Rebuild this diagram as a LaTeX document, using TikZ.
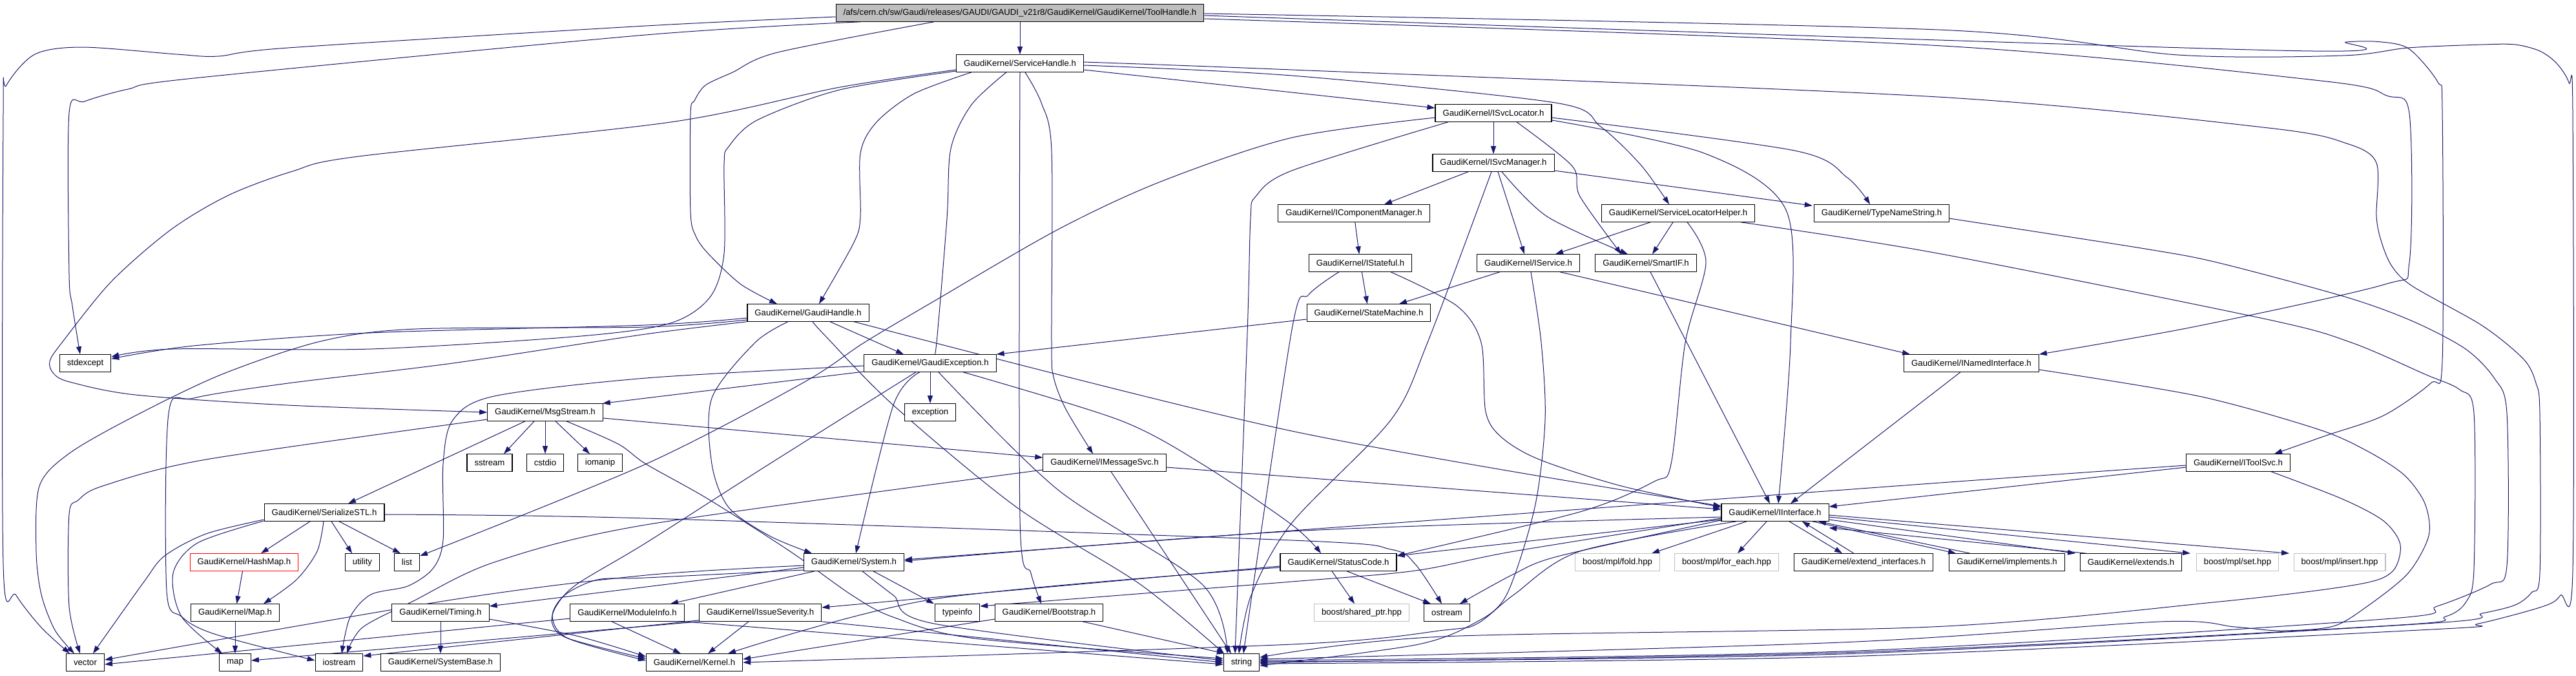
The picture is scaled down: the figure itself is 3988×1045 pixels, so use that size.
\documentclass[tikz,border=0pt]{standalone}
\usepackage{fontspec}
\newfontfamily\gkfont{Liberation Sans}
\usetikzlibrary{arrows.meta}
\usetikzlibrary{backgrounds}
\definecolor{linkblue}{RGB}{25,25,112}
\definecolor{rootgray}{RGB}{191,191,191}

\begin{document}
\begin{tikzpicture}[x=1pt,y=-1pt,
  hdr/.style={draw=black,line width=1.1pt,fill=white,minimum height=26.5pt,
    inner xsep=11.5pt,inner ysep=0pt,font=\gkfont\fontsize{13.2}{15}\selectfont},
  syshdr/.style={hdr,draw=rootgray},
  dep/.style={draw=linkblue,line width=1pt,-{Triangle[length=12pt,width=8pt]}},
  curve/.style={dep,smooth,tension=0.5}
  ]
\useasboundingbox (0,0) rectangle (3988,1045);

% rows of the include graph
\node[hdr,fill=rootgray] (toolhandle) at (1579,20) {/afs/cern.ch/sw/Gaudi/releases/GAUDI/GAUDI\_v21r8/GaudiKernel/GaudiKernel/ToolHandle.h};
\node[hdr] (svchandle) at (1579,98) {GaudiKernel/ServiceHandle.h};
\node[hdr] (svclocator) at (2312,175) {GaudiKernel/ISvcLocator.h};
\node[hdr] (svcmanager) at (2312,252) {GaudiKernel/ISvcManager.h};
\node[hdr] (compmgr) at (2096,330) {GaudiKernel/IComponentManager.h};
\node[hdr] (slhelper) at (2598,330) {GaudiKernel/ServiceLocatorHelper.h};
\node[hdr] (typename) at (2913,330) {GaudiKernel/TypeNameString.h};
\node[hdr] (stateful) at (2106,407) {GaudiKernel/IStateful.h};
\node[hdr] (iservice) at (2366,407) {GaudiKernel/IService.h};
\node[hdr] (smartif) at (2548,407) {GaudiKernel/SmartIF.h};
\node[hdr] (gaudihandle) at (1251,484) {GaudiKernel/GaudiHandle.h};
\node[hdr] (statemachine) at (2119,484) {GaudiKernel/StateMachine.h};
\node[hdr] (stdexcept) at (132,562) {stdexcept};
\node[hdr] (gaudiexc) at (1440,562) {GaudiKernel/GaudiException.h};
\node[hdr] (namedif) at (3052,562) {GaudiKernel/INamedInterface.h};
\node[hdr] (msgstream) at (844,638) {GaudiKernel/MsgStream.h};
\node[hdr] (exception) at (1440,638) {exception};
\node[hdr] (sstream) at (758,716) {sstream};
\node[hdr] (cstdio) at (844,716) {cstdio};
\node[hdr] (iomanip) at (929,716) {iomanip};
\node[hdr] (msgsvc) at (1710,716) {GaudiKernel/IMessageSvc.h};
\node[hdr] (toolsvc) at (3465,716) {GaudiKernel/IToolSvc.h};
\node[hdr] (serialize) at (502,793) {GaudiKernel/SerializeSTL.h};
\node[hdr] (iinterface) at (2748,793) {GaudiKernel/IInterface.h};
\node[hdr,draw=red] (hashmap) at (378,870) {GaudiKernel/HashMap.h};
\node[hdr] (utility) at (561,870) {utility};
\node[hdr] (list) at (630,870) {list};
\node[hdr] (system) at (1322,870) {GaudiKernel/System.h};
\node[hdr] (statuscode) at (2072,870) {GaudiKernel/StatusCode.h};
\node[syshdr] (fold) at (2504,870) {boost/mpl/fold.hpp};
\node[syshdr] (foreach) at (2673,870) {boost/mpl/for\_each.hpp};
\node[hdr] (extendif) at (2885,870) {GaudiKernel/extend\_interfaces.h};
\node[hdr] (implements) at (3107,870) {GaudiKernel/implements.h};
\node[hdr] (extends) at (3299,870) {GaudiKernel/extends.h};
\node[syshdr] (mplset) at (3464,870) {boost/mpl/set.hpp};
\node[syshdr] (mplinsert) at (3622,870) {boost/mpl/insert.hpp};
\node[hdr] (gkmap) at (364,948) {GaudiKernel/Map.h};
\node[hdr] (timing) at (682,948) {GaudiKernel/Timing.h};
\node[hdr] (moduleinfo) at (971,948) {GaudiKernel/ModuleInfo.h};
\node[hdr] (severity) at (1177,948) {GaudiKernel/IssueSeverity.h};
\node[hdr] (typeinfo) at (1482,948) {typeinfo};
\node[hdr] (bootstrap) at (1624,948) {GaudiKernel/Bootstrap.h};
\node[syshdr] (sharedptr) at (2108,948) {boost/shared\_ptr.hpp};
\node[hdr] (ostream) at (2240,948) {ostream};
\node[hdr] (vector) at (132,1025) {vector};
\node[hdr] (stlmap) at (364,1025) {map};
\node[hdr] (iostream) at (525,1025) {iostream};
\node[hdr] (systembase) at (682,1025) {GaudiKernel/SystemBase.h};
\node[hdr] (kernel) at (1075,1025) {GaudiKernel/Kernel.h};
\node[hdr] (string) at (1922,1025) {string};

\begin{scope}[on background layer]
\fill[white] (0,0) rectangle (3988,1045);
% ToolHandle.h
\draw[curve] plot coordinates {([yshift=-6pt]toolhandle.west) (1000,40) (446,74) (338,87) (274,84) (128,73) (54,84) (10,132) (5,176) (5,873) (25,921) (64,971) ([xshift=-24pt]vector.north)};
\draw[curve] plot coordinates {([xshift=-247pt]toolhandle.south) (1000,54) (300,121) (198,138) (131,157) (107,175) (107,423) (112,473) ([xshift=-8pt]stdexcept.north)};
\draw[curve] plot coordinates {([xshift=-133pt]toolhandle.south) (1204,81) (1134,112) (1092,132) (1075,156) (1069,176) (1069,328) (1077,365) (1096,392) (1147,440) ([xshift=-48pt]gaudihandle.north)};
\draw[dep] (toolhandle) -- (svchandle);
\draw[curve] plot coordinates {([yshift=-4pt]toolhandle.east) (3525,78) (3633,65) (3687,65) (3730,76) (3774,127) (3781,172) (3781,559) (3763,593) (3690,643) (3601,674) ([xshift=56pt]toolsvc.north)};
\draw[curve] plot coordinates {([yshift=-9pt]toolhandle.east) (2990,70) (3593,125) (3695,148) (3730,176) (3730,406) (3692,440) (3400,505) (namedif.north east)};
\draw[curve] plot coordinates {([yshift=-1pt]toolhandle.east) (3000,46) (3372,85) (3627,86) (3728,74) (3843,69) (3894,69) (3932,79) (3958,98) (3977,128) (3983,176) (3983,883) (3964,921) (3938,938) (3837,965) (3764,974) (2850,1016) ([yshift=-2pt]string.east)};
% ServiceHandle.h
\draw[curve] plot coordinates {([yshift=-10pt]svchandle.west) (1300,135) (1038,189) (555,242) (453,265) (354,302) (265,355) (172,436) (96,530) (77,559) (83,578) (108,591) (210,611) (446,627) (msgstream.west)};
\draw[curve] plot coordinates {([yshift=-12pt]svchandle.west) (1300,139) (1172,186) (1128,227) (1121,254) (1121,392) (1099,460) (1038,500) (900,520) (574,540) (268,540) ([yshift=-4pt]stdexcept.north east)};
\draw[curve] plot coordinates {([xshift=-75pt]svchandle.south) (1415,145) (1357,189) (1332,237) (1332,335) (1322,375) ([xshift=17pt]gaudihandle.north)};
\draw[curve] plot coordinates {([xshift=-21pt]svchandle.south) (1504,162) (1472,230) (1466,338) (1450,530) ([xshift=5pt]gaudiexc.north)};
\draw[curve] plot coordinates {(svchandle.south) (1579,802) (1596,887) ([xshift=-12pt]bootstrap.north)};
\draw[curve] plot coordinates {([xshift=8pt]svchandle.south) (1612,159) (1628,233) (1628,530) (1631,583) (1650,633) ([xshift=-18pt]msgsvc.north)};
\draw[dep] ([yshift=-10pt]svchandle.east) -- ([yshift=8pt]svclocator.west);
\draw[curve] plot coordinates {([yshift=-3pt]svchandle.east) (2000,117) (2408,159) (2478,196) (2540,255) ([xshift=-14pt]slhelper.north)};
\draw[curve] plot coordinates {([yshift=2pt]svchandle.east) (2000,108) (3000,150) (3512,198) (3633,222) (3679,252) (3679,335) (3687,375) (3703,412) (3735,443) (3843,504) (3907,556) (3926,593) (3932,640) (3932,887) (3919,917) (3894,936) (3843,949) (3754,965) (2850,1012) ([yshift=1pt]string.east)};
% GaudiHandle.h
\draw[curve] plot coordinates {([yshift=-8pt]gaudihandle.west) (1000,503) (574,515) (300,535) ([yshift=-7pt]stdexcept.north east)};
\draw[curve] plot coordinates {([yshift=-11pt]gaudihandle.west) (1000,506) (644,509) (497,528) (344,579) (210,643) (108,701) (61,752) (56,853) (64,920) (85,975) ([xshift=-17pt]vector.north)};
\draw[curve] plot coordinates {(gaudihandle.south west) (1000,517) (701,562) (446,593) (300,616) (261,640) (258,914) (281,954) (332,981) ([yshift=3pt]iostream.west)};
\draw[dep] ([xshift=34pt]gaudihandle.south) -- ([xshift=-41pt]gaudiexc.north);
\draw[curve] plot coordinates {([xshift=-31pt]gaudihandle.south) (1169,530) (1102,616) (1102,718) (1128,785) (1191,829) ([xshift=-65pt]system.north)};
\draw[curve] plot coordinates {([xshift=7pt]gaudihandle.south) (1278,520) (1383,627) (1574,785) (1765,904) ([xshift=-27pt]string.north)};
\draw[curve] plot coordinates {([xshift=71pt]gaudihandle.south) (2000,667) ([yshift=10pt]iinterface.west)};
% ISvcLocator.h
\draw[curve] plot coordinates {([yshift=-7pt]svclocator.west) (2000,213) (1797,281) (1638,355) (1446,466) (1338,530) (1242,593) (1000,718) ([yshift=-4pt]list.north east)};
\draw[curve] plot coordinates {([xshift=-70pt]svclocator.south) (2000,264) (1944,304) (1936,338) (1931,515) ([xshift=-10pt]string.north)};
\draw[dep] (svclocator) -- (svcmanager);
\draw[curve] plot coordinates {([xshift=36pt]svclocator.south) (2434,257) (2446,304) ([xshift=-38pt]smartif.north)};
\draw[curve] plot coordinates {([yshift=-11pt]svclocator.east) (2638,237) (2765,325) (2772,530) ([xshift=5pt]iinterface.north)};
\draw[curve] plot coordinates {([yshift=-7pt]svclocator.east) (2778,233) (2860,275) ([xshift=-18pt]typename.north)};
% ISvcManager.h
\draw[dep] ([xshift=-39pt]svcmanager.south) -- ([xshift=47pt]compmgr.north);
\draw[dep] ([xshift=7pt]svcmanager.south) -- ([xshift=-6pt]iservice.north);
\draw[curve] plot coordinates {([xshift=13pt]svcmanager.south) (2395,335) ([xshift=-28pt]smartif.north)};
\draw[dep] ([yshift=-12pt]svcmanager.east) -- ([xshift=-2pt,yshift=-2pt]typename.north west);
\draw[curve] plot coordinates {([xshift=-3pt]svcmanager.south) (2210,530) (2153,650) (2000,809) (1937,921) ([xshift=-4pt]string.north)};
% IComponentManager.h, IStateful.h
\draw[dep] (compmgr) -- (stateful);
\draw[dep] (stateful) -- (statemachine);
\draw[curve] plot coordinates {([xshift=47pt]stateful.south) (2255,473) (2293,530) (2300,637) (2325,677) (2383,711) (2510,752) ([yshift=8pt]iinterface.west)};
\draw[curve] plot coordinates {([xshift=-33pt]stateful.south) (2026,456) (2000,510) ([xshift=3pt]string.north)};
% ServiceLocatorHelper.h
\draw[dep] ([xshift=-43pt]slhelper.south) -- ([xshift=42pt]iservice.north);
\draw[dep] ([xshift=-8pt]slhelper.south) -- ([xshift=10pt]smartif.north);
\draw[curve] plot coordinates {([xshift=14pt]slhelper.south) (2641,406) (2609,530) (2587,718) (2561,745) (2446,792) ([yshift=10pt]statuscode.east)};
\draw[curve] plot coordinates {([xshift=97pt]slhelper.south) (3000,392) (3509,494) (3640,530) (3754,579) (3808,603) (3830,640) (3830,880) (3818,931) (3786,954) (3700,968) (2850,1010) (string.east)};
% TypeNameString.h
\draw[curve] plot coordinates {([yshift=-8pt]typename.east) (3321,385) (3436,407) (3633,460) (3735,497) (3817,540) (3862,586) (3881,640) (3881,875) (3856,904) (3773,938) (3690,958) (2850,1008) ([yshift=3pt]string.east)};
% IService.h, SmartIF.h, StateMachine.h
\draw[dep] ([xshift=-44pt]iservice.south) -- ([xshift=47pt]statemachine.north);
\draw[dep] ([xshift=49pt]iservice.south) -- ([xshift=-95pt]namedif.north);
\draw[curve] plot coordinates {([xshift=4pt]iservice.south) (2386,530) (2392,650) (2376,785) (2332,921) (2281,965) (2191,998) ([yshift=-5pt]string.east)};
\draw[dep] ([xshift=7pt]smartif.south) -- ([xshift=-8pt]iinterface.north);
\draw[dep] ([yshift=-10pt]statemachine.west) -- (gaudiexc.north east);
% INamedInterface.h, IToolSvc.h
\draw[dep] ([xshift=-17pt]namedif.south) -- ([xshift=24pt]iinterface.north);
\draw[curve] plot coordinates {([yshift=-10pt]namedif.east) (3404,613) (3588,664) (3665,698) (3722,735) (3754,779) (3760,829) (3728,887) (3665,938) (3612,969) (3532,976) (3460,970) (3343,962) (2850,994) ([yshift=5pt]string.east)};
\draw[dep] ([yshift=-7pt]toolsvc.west) -- ([yshift=9pt]iinterface.east);
\draw[curve] plot coordinates {([yshift=-4pt]toolsvc.west) (2990,748) (2000,821) ([yshift=4pt]system.east)};
\draw[curve] plot coordinates {([xshift=51pt]toolsvc.south) (3626,772) (3690,806) (3716,843) (3703,885) (3646,905) (3436,931) (2990,970) (2233,985) ([yshift=-6pt]string.north east)};
% GaudiException.h
\draw[dep] ([yshift=-13pt]gaudiexc.west) -- ([xshift=-1pt]msgstream.north east);
\draw[curve] plot coordinates {([yshift=-4pt]gaudiexc.west) (1000,585) (765,613) (701,650) (686,718) (686,836) (670,880) (631,907) (574,920) (542,955) ([xshift=4pt]iostream.north)};
\draw[dep] (gaudiexc) -- (exception);
\draw[curve] plot coordinates {([xshift=-16pt]gaudiexc.south) (1383,627) ([xshift=3pt]system.north)};
\draw[curve] plot coordinates {([xshift=-22pt]gaudiexc.south) (1191,718) (1000,840) (893,904) (861,938) (855,965) (880,988) ([yshift=6pt]kernel.west)};
\draw[curve] plot coordinates {([xshift=51pt]gaudiexc.south) (1733,650) (1861,718) (2000,812) ([xshift=-27pt]statuscode.north)};
\draw[curve] plot coordinates {([xshift=13pt]gaudiexc.south) (1638,758) (1861,904) ([xshift=-22pt]string.north)};
% MsgStream.h
\draw[curve] plot coordinates {([yshift=-11pt]msgstream.west) (319,711) (159,752) (121,774) (107,796) (107,938) ([xshift=-8pt]vector.north)};
\draw[dep] ([xshift=-31pt]msgstream.south) -- ([xshift=37pt]serialize.north);
\draw[dep] ([xshift=-17pt]msgstream.south) -- ([xshift=22pt]sstream.north);
\draw[dep] (msgstream) -- (cstdio);
\draw[dep] ([xshift=16pt]msgstream.south) -- ([xshift=-16pt]iomanip.north);
\draw[dep] ([yshift=-9pt]msgstream.east) -- ([yshift=8pt]msgsvc.west);
\draw[curve] plot coordinates {([xshift=33pt]msgstream.south) (957,687) (1000,718) (1096,772) (1223,853) (1319,921) (1383,955) (1510,988) ([yshift=6pt]string.west)};
% SerializeSTL.h, HashMap.h, Map.h
\draw[curve] plot coordinates {([yshift=-11pt]serialize.west) (319,826) (255,860) (223,900) ([xshift=12pt]vector.north)};
\draw[dep] ([xshift=-22pt]serialize.south) -- ([xshift=26pt]hashmap.north);
\draw[curve] plot coordinates {([xshift=-1pt]serialize.south) (491,853) (459,897) ([xshift=44pt]gkmap.north)};
\draw[dep] ([xshift=11pt]serialize.south) -- ([xshift=-16pt]utility.north);
\draw[dep] ([xshift=23pt]serialize.south) -- ([xshift=-10pt]list.north);
\draw[curve] plot coordinates {([yshift=-13pt]serialize.west) (306,840) (268,887) (281,954) ([xshift=-20pt]stlmap.north)};
\draw[curve] plot coordinates {([yshift=-3pt]serialize.east) (1000,802) (2000,836) (2153,850) (2191,873) ([xshift=-8pt]ostream.north)};
\draw[dep] (hashmap) -- (gkmap);
\draw[dep] (gkmap) -- (stlmap);
% System.h
\draw[dep] ([yshift=-8pt]system.west) -- ([yshift=10pt]timing.east);
\draw[dep] ([xshift=-61pt]system.south) -- ([xshift=67pt]moduleinfo.north);
\draw[dep] ([xshift=30pt]system.south) -- ([xshift=-36pt]typeinfo.north);
\draw[curve] plot coordinates {([yshift=-5pt]system.west) (1000,890) (700,928) ([yshift=4pt]vector.east)};
\draw[curve] plot coordinates {([yshift=-12pt]system.west) (1000,894) (925,897) (874,921) (855,954) (880,988) ([yshift=3pt]kernel.west)};
\draw[curve] plot coordinates {([xshift=13pt]system.south) (1383,921) (1446,965) ([yshift=3pt]string.west)};
% Timing.h, ModuleInfo.h, IssueSeverity.h
\draw[dep] (timing) -- (systembase);
\draw[curve] plot coordinates {([yshift=-10pt]timing.east) (893,984) ([yshift=9pt]kernel.west)};
\draw[dep] ([yshift=-9pt]moduleinfo.west) -- ([yshift=-3pt]vector.east);
\draw[dep] ([xshift=-24pt]moduleinfo.south) -- ([xshift=-21pt]kernel.north);
\draw[dep] (moduleinfo.south east) -- ([yshift=-3pt]string.west);
\draw[dep] (severity.south west) -- ([yshift=3pt]stlmap.east);
\draw[dep] ([yshift=2pt]severity.south west) -- ([yshift=10pt]iostream.east);
\draw[dep] ([xshift=-18pt]severity.south) -- ([xshift=21pt]kernel.north);
\draw[dep] (severity.south east) -- ([yshift=0pt]string.west);
% IMessageSvc.h, Bootstrap.h
\draw[curve] plot coordinates {([yshift=-11pt]msgsvc.west) (1000,812) (765,870) (638,931) (561,971) ([xshift=12pt]iostream.north)};
\draw[dep] ([yshift=-7pt]msgsvc.east) -- ([yshift=5pt]iinterface.west);
\draw[dep] ([xshift=10pt]msgsvc.south) -- ([xshift=-16pt]string.north);
\draw[dep] ([yshift=-10pt]bootstrap.west) -- ([yshift=5pt]kernel.east);
\draw[dep] ([xshift=52pt]bootstrap.south) -- ([xshift=2pt]string.north west);
% StatusCode.h
\draw[dep] ([yshift=-6pt]statuscode.west) -- ([yshift=8pt]severity.east);
\draw[dep] ([xshift=13pt]statuscode.south) -- ([xshift=-25pt]ostream.north);
\draw[dep] ([xshift=-10pt]statuscode.south) -- ([xshift=-11pt]sharedptr.north);
\draw[curve] plot coordinates {([yshift=-8pt]statuscode.west) (1446,927) ([xshift=52pt]kernel.north)};
% IInterface.h
\draw[curve] plot coordinates {([yshift=-7pt]iinterface.west) (2000,822) ([yshift=2pt]system.east)};
\draw[dep] ([yshift=-11pt]iinterface.west) -- ([yshift=10pt]statuscode.east);
\draw[curve] plot coordinates {([xshift=-83pt,yshift=2pt]iinterface.south) (2415,860) (2344,888) ([xshift=20pt]ostream.north)};
\draw[curve] plot coordinates {([xshift=-83pt,yshift=5pt]iinterface.south) (2344,853) (2191,883) (2000,900) ([yshift=10pt]typeinfo.east)};
\draw[curve] plot coordinates {([xshift=-60pt]iinterface.south) (2446,853) (2344,920) (2287,965) (2236,975) (2000,997) (kernel.east)};
\draw[dep] ([xshift=-44pt]iinterface.south) -- ([xshift=53pt]fold.north);
\draw[dep] ([xshift=-13pt]iinterface.south) -- ([xshift=17pt]foreach.north);
\draw[dep] ([xshift=22pt]iinterface.south) -- ([xshift=-33pt]extendif.north);
\draw[dep] ([xshift=58pt]iinterface.south) -- ([xshift=-79pt]implements.north);
\draw[dep] ([yshift=-11pt]iinterface.east) -- ([xshift=-86pt]extends.north);
\draw[dep] ([yshift=-7pt]iinterface.east) -- ([xshift=-73pt]mplset.north);
\draw[dep] ([yshift=-4pt]iinterface.east) -- ([xshift=-78pt]mplinsert.north);
\draw[dep] ([xshift=-15pt]extendif.north) -- ([xshift=42pt]iinterface.south);
\draw[dep] ([xshift=-57pt]implements.north) -- ([xshift=67pt]iinterface.south);
\draw[dep] ([xshift=-69pt]extends.north) -- ([yshift=-10pt]iinterface.south east);
\end{scope}
\end{tikzpicture}
\end{document}
